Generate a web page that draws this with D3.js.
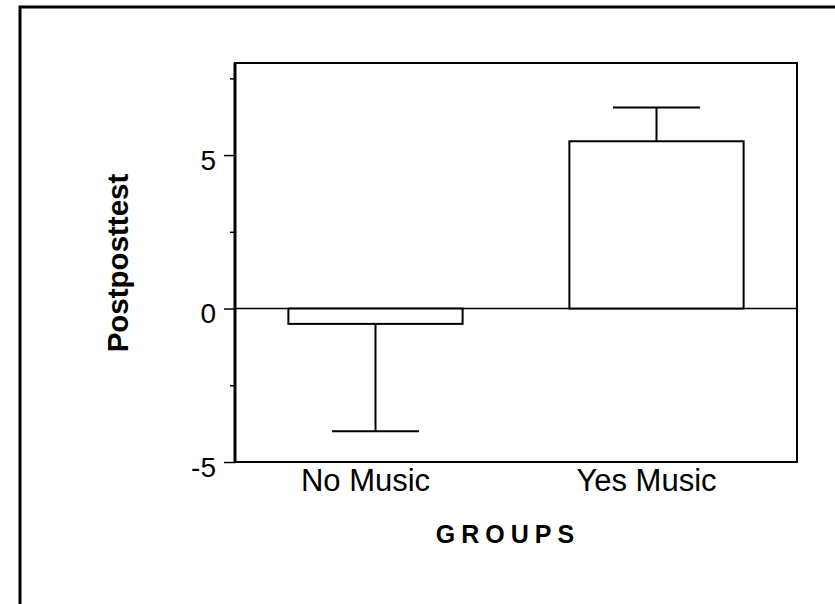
<!DOCTYPE html>
<html>
<head>
<meta charset="utf-8">
<script src="https://cdn.jsdelivr.net/npm/d3@7"></script>
<style>
	body { margin: 0; background: #fff; }
	text { font-family: "Liberation Sans", Arial, sans-serif; fill: #000; }
</style>
</head>
<body>
<svg id="chart" width="835" height="604"></svg>
<script>
const groups = ["No Music", "Yes Music"];
const means = [-0.5, 5.45];
const errors = [3.5, 1.1];
const majorTicks = [-5, 0, 5];
const minorTicks = [-2.5, 2.5, 7.5];

const svg = d3.select("#chart");
const margin = { left: 235, right: 38, top: 63, bottom: 142 };
const width = 835 - margin.left - margin.right;
const height = 604 - margin.top - margin.bottom;

// outer frame (only left and top edges fall inside the picture)
svg.append("path")
	.attr("d", "M20,604 L20,7 L835,7")
	.attr("fill", "none")
	.attr("stroke", "#000")
	.attr("stroke-width", 3);

const g = svg.append("g").attr("transform", `translate(${margin.left},${margin.top})`);

const x = d3.scaleBand()
	.domain(groups)
	.range([0, width])
	.paddingInner(0.38)
	.paddingOuter(0.19);

const y = d3.scaleLinear()
	.domain([-5, 8])
	.range([height, 0]);

// plot box
g.append("rect")
	.attr("x", 0)
	.attr("y", 0)
	.attr("width", width)
	.attr("height", height)
	.attr("fill", "none")
	.attr("stroke", "#000")
	.attr("stroke-width", 2);
g.append("line")
	.attr("x1", 0).attr("x2", 0)
	.attr("y1", 0).attr("y2", height)
	.attr("stroke", "#000")
	.attr("stroke-width", 3);

// y axis: major ticks with labels, minor ticks without
const yAxis = d3.axisLeft(y)
	.tickValues(majorTicks)
	.tickSize(11)
	.tickPadding(8)
	.tickFormat(d3.format("d"));
const yAxisG = g.append("g").call(yAxis);
yAxisG.select(".domain").remove();
yAxisG.selectAll("line").attr("stroke", "#000").attr("stroke-width", 1.5);
yAxisG.selectAll("text")
	.style("font-size", "28px")
	.attr("dy", "0.5em")
	.text(d => d < 0 ? "-" + Math.abs(d) : d);

const minorAxisG = g.append("g").call(d3.axisLeft(y).tickValues(minorTicks).tickSize(5).tickFormat(""));
minorAxisG.select(".domain").remove();
minorAxisG.selectAll("line").attr("stroke", "#000").attr("stroke-width", 1.5);

// zero reference line
g.append("line")
	.attr("x1", 0).attr("x2", width)
	.attr("y1", y(0)).attr("y2", y(0))
	.attr("stroke", "#000")
	.attr("stroke-width", 1.5);

// error bars
const capW = x.bandwidth() / 2;
const errG = g.append("g").attr("class", "errors");
groups.forEach((grp, i) => {
	const cx = x(grp) + x.bandwidth() / 2;
	const end = means[i] + Math.sign(means[i]) * errors[i];
	errG.append("line")
		.attr("x1", cx).attr("x2", cx)
		.attr("y1", y(means[i])).attr("y2", y(end))
		.attr("stroke", "#000").attr("stroke-width", 2);
	errG.append("line")
		.attr("x1", cx - capW / 2).attr("x2", cx + capW / 2)
		.attr("y1", y(end)).attr("y2", y(end))
		.attr("stroke", "#000").attr("stroke-width", 2);
});

// bars
g.append("g").selectAll("rect")
	.data(groups)
	.enter()
	.append("rect")
	.attr("x", d => x(d))
	.attr("width", x.bandwidth())
	.attr("y", (_, i) => y(Math.max(0, means[i])))
	.attr("height", (_, i) => Math.abs(y(means[i]) - y(0)))
	.attr("fill", "#fff")
	.attr("stroke", "#000")
	.attr("stroke-width", 2);

// category labels (sit a little left of the bar centres in the original)
const xAxisG = g.append("g")
	.attr("transform", `translate(-10,${height})`)
	.call(d3.axisBottom(x).tickSize(0).tickPadding(8));
xAxisG.select(".domain").remove();
xAxisG.selectAll("text")
	.style("font-size", "31px")
	.attr("dy", "0.68em");

// axis titles
svg.append("text")
	.attr("x", 508)
	.attr("y", 543)
	.attr("text-anchor", "middle")
	.style("font-size", "25px")
	.style("font-weight", "bold")
	.style("letter-spacing", "6px")
	.text("GROUPS");

svg.append("text")
	.attr("transform", "translate(128,263) rotate(-90)")
	.attr("text-anchor", "middle")
	.style("font-size", "29.5px")
	.style("font-weight", "bold")
	.text("Postposttest");
</script>
</body>
</html>
